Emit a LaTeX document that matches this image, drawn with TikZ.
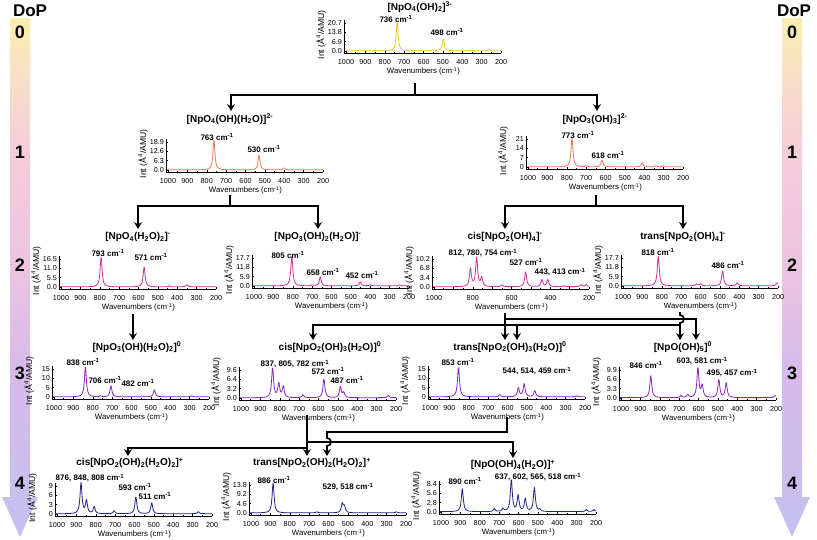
\documentclass[tikz,border=0pt]{standalone}
\usepackage{fontspec}
\setmainfont{Liberation Sans}
\usetikzlibrary{arrows.meta}
\definecolor{cyel}{RGB}{240,196,40}
\definecolor{corg}{RGB}{240,120,90}
\definecolor{cmag}{RGB}{205,50,150}
\definecolor{cpur}{RGB}{135,40,190}
\definecolor{cnav}{RGB}{35,35,130}
\definecolor{dA}{RGB}{252,236,178}
\definecolor{dB}{RGB}{248,222,200}
\definecolor{dC}{RGB}{244,205,218}
\definecolor{dD}{RGB}{236,196,226}
\definecolor{dE}{RGB}{215,186,234}
\definecolor{dF}{RGB}{198,192,238}
\pgfdeclareverticalshading{dopshade}{100bp}{color(0bp)=(dF); color(27bp)=(dF); color(41bp)=(dE); color(51bp)=(dD); color(62bp)=(dC); color(69bp)=(dB); color(74bp)=(dA); color(100bp)=(dA)}
\tikzset{
  declare function={lz(\lzA,\lzB,\lzC)=\lzC/(1+(min(abs(\lzA-\lzB),100)/6)^2);},
  axisline/.style={line width=0.5pt, black},
  ticklab/.style={font=\fontsize{7.2}{8}\selectfont, inner sep=0pt},
  ylab/.style={font=\fontsize{8.6}{9}\selectfont, inner sep=0pt, rotate=90},
  xlab/.style={font=\fontsize{7.8}{9}\selectfont, inner sep=0pt},
  ttl/.style={font=\bfseries\fontsize{10}{12}\selectfont, inner sep=0pt},
  pk/.style={font=\bfseries\fontsize{8}{9}\selectfont, inner sep=0pt},
  dopt/.style={font=\bfseries\fontsize{17}{19}\selectfont, inner sep=0pt},
  dopn/.style={font=\bfseries\fontsize{18}{20}\selectfont, inner sep=0pt},
  conn/.style={line width=1.7pt, black, line cap=rect},
  arr/.style={line width=1.7pt, black, -{Stealth[length=7pt,width=8pt,inset=2.5pt]}},
}
% #1 name, #2 X0 (1000 cm-1), #3 y of x axis, #4 y tick labels, #5 colour, #6 peaks, #7 label mode
\newcommand{\spanel}[7]{%
\begin{scope}[shift={(#2,#3)}]
  \coordinate (#1) at (77.5,0);
  \draw[#5, line width=0.8pt, line join=round] plot[domain=1010:200, samples=406]
     ({(1000-\x)*0.19375},{-2-(#6)});
  \draw[axisline] (-2,-33) -- (-2,0) -- (155,0);
  \foreach \w in {1000,900,...,200} \draw[axisline] ({(1000-\w)*0.19375},0) -- ++(0,-2);
  \foreach \w in {950,850,...,250} \draw[axisline] ({(1000-\w)*0.19375},0) -- ++(0,-1);
  \ifnum#7=0
    \foreach \w in {1000,900,...,200} \node[ticklab] at ({(1000-\w)*0.19375},9.5) {\w};
  \else
    \foreach \w in {1000,800,...,200} \node[ticklab] at ({(1000-\w)*0.19375},9.5) {\w};
  \fi
  \foreach \t [count=\i from 0] in {#4} {
    \draw[axisline] (-2,{-2-\i*9.333}) -- ++(2,0);
    \node[ticklab, anchor=east] at (-4,{-2-\i*9.333}) {\t};}
  \foreach \i in {0,1,2} \draw[axisline] (-2,{-2-(\i+0.5)*9.333}) -- ++(1,0);
  \node[ylab] at (-25,-18) {Int (Å\textsuperscript{4}/AMU)};
  \node[xlab] at (77.5,18.5) {Wavenumbers (cm\textsuperscript{-1})};
\end{scope}}
\newcommand{\wn}{~cm\textsuperscript{-1}}
\begin{document}
\begin{tikzpicture}[x=1pt,y=-1pt]
\useasboundingbox (0,0) rectangle (817,539);
\fill[white] (0,0) rectangle (817,539);

% ---------------- DoP arrows
\shade[shading=dopshade]
  (10,18) -- (30,18) -- (30,497) -- (38,497) -- (20,537) -- (2,497) -- (10,497) -- cycle;
\shade[shading=dopshade]
  (782,18) -- (802,18) -- (802,497) -- (810,497) -- (792,537) -- (774,497) -- (782,497) -- cycle;
\node[dopt] (dopL) at (30,11) {DoP};
\node[dopt] (dopR) at (794,11) {DoP};
\foreach \n/\yy in {0/32,1/152,2/265,3/373,4/483} {
  \node[dopn] (nL\n) at (20,\yy) {\n};
  \node[dopn] (nR\n) at (792,\yy) {\n};}

% ---------------- spectra
\spanel{P0}{346}{53}{0.0,6.9,13.8,20.7}{cyel}{lz(\x,736,29)+lz(\x,498,12)+lz(\x,550,1)+lz(\x,360,1)+lz(\x,262,1.5)}{0}
\spanel{P1a}{168}{172}{0.0,6.3,12.6,18.9}{corg}{lz(\x,763,30)+lz(\x,530,15)+lz(\x,400,2)}{0}
\spanel{P1b}{528}{169}{0,7,14,21}{corg}{lz(\x,773,29)+lz(\x,618,7)+lz(\x,410,4)+lz(\x,700,1)+lz(\x,570,1)+lz(\x,340,1)+lz(\x,300,1)}{0}
\spanel{P2a}{61}{289}{0.0,5.5,11.0,16.5}{cmag}{lz(\x,793,30)+lz(\x,571,20)+lz(\x,440,1)+lz(\x,350,2)}{0}
\spanel{P2b}{254}{288}{0.0,5.9,11.8,17.7}{cmag}{lz(\x,805,30)+lz(\x,658,9)+lz(\x,452,4)+lz(\x,700,1)+lz(\x,400,1)+lz(\x,250,1)}{0}
\spanel{P2c}{434}{289}{0.0,3.4,6.8,10.2}{cmag}{lz(\x,812,18)+lz(\x,780,29)+lz(\x,754,9)+lz(\x,650,2)+lz(\x,527,15)+lz(\x,443,7)+lz(\x,413,7)+lz(\x,330,1)+lz(\x,240,2)+lz(\x,215,2)}{1}
\spanel{P2d}{623}{288}{0.0,5.9,11.8,17.7}{cmag}{lz(\x,818,30)+lz(\x,486,15)+lz(\x,620,2)+lz(\x,600,2)+lz(\x,410,3)+lz(\x,205,3)}{0}
\spanel{P3a}{54}{399}{0,5,10,15}{cpur}{lz(\x,838,30)+lz(\x,706,11)+lz(\x,482,7)+lz(\x,760,1)+lz(\x,290,1)}{0}
\spanel{P3b}{241}{400}{0.0,3.2,6.4,9.6}{cpur}{lz(\x,837,30)+lz(\x,805,14)+lz(\x,782,11)+lz(\x,680,3)+lz(\x,572,19)+lz(\x,487,11)+lz(\x,470,5)+lz(\x,240,2)}{0}
\spanel{P3c}{430}{399}{0,5,10,15}{cpur}{lz(\x,853,30)+lz(\x,640,2)+lz(\x,544,9)+lz(\x,514,13)+lz(\x,459,6)+lz(\x,240,1)}{0}
\spanel{P3d}{621}{400}{0.0,3.3,6.6,9.9}{cpur}{lz(\x,846,22)+lz(\x,690,2)+lz(\x,655,3)+lz(\x,603,30)+lz(\x,581,12)+lz(\x,495,18)+lz(\x,457,15)+lz(\x,205,2)}{0}
\spanel{P4a}{57}{516}{0,3,6,9}{cnav}{lz(\x,876,31)+lz(\x,848,13)+lz(\x,808,7)+lz(\x,705,3)+lz(\x,593,17)+lz(\x,511,11)+lz(\x,270,2)}{0}
\spanel{P4b}{251}{515}{0.0,4.6,9.2,13.8}{cnav}{lz(\x,886,30)+lz(\x,660,1)+lz(\x,529,9)+lz(\x,518,6)+lz(\x,250,1)}{0}
\spanel{P4c}{441}{514}{0.0,2.8,5.6,8.4}{cnav}{lz(\x,890,23)+lz(\x,725,3)+lz(\x,680,3)+lz(\x,637,32)+lz(\x,602,16)+lz(\x,565,13)+lz(\x,518,24)+lz(\x,490,2)+lz(\x,250,2)+lz(\x,210,2)}{0}

% ---------------- titles
\node[ttl] (T0) at (420,7) {[NpO\textsubscript{4}(OH)\textsubscript{2}]\textsuperscript{3-}};
\node[ttl] (T1a) at (230,119) {[NpO\textsubscript{4}(OH)(H\textsubscript{2}O)]\textsuperscript{2-}};
\node[ttl] (T1b) at (595,119) {[NpO\textsubscript{3}(OH)\textsubscript{3}]\textsuperscript{2-}};
\node[ttl] (T2a) at (138,237) {[NpO\textsubscript{4}(H\textsubscript{2}O)\textsubscript{2}]\textsuperscript{-}};
\node[ttl] (T2b) at (318,237) {[NpO\textsubscript{3}(OH)\textsubscript{2}(H\textsubscript{2}O)]\textsuperscript{-}};
\node[ttl] (T2c) at (505,237) {cis[NpO\textsubscript{2}(OH)\textsubscript{4}]\textsuperscript{-}};
\node[ttl] (T2d) at (683,237) {trans[NpO\textsubscript{2}(OH)\textsubscript{4}]\textsuperscript{-}};
\node[ttl] (T3a) at (137,347) {[NpO\textsubscript{3}(OH)(H\textsubscript{2}O)\textsubscript{2}]\textsuperscript{0}};
\node[ttl] (T3b) at (330,347) {cis[NpO\textsubscript{2}(OH)\textsubscript{3}(H\textsubscript{2}O)]\textsuperscript{0}};
\node[ttl] (T3c) at (510,347) {trans[NpO\textsubscript{2}(OH)\textsubscript{3}(H\textsubscript{2}O)]\textsuperscript{0}};
\node[ttl] (T3d) at (683,347) {[NpO(OH)\textsubscript{5}]\textsuperscript{0}};
\node[ttl] (T4a) at (130,463) {cis[NpO\textsubscript{2}(OH)\textsubscript{2}(H\textsubscript{2}O)\textsubscript{2}]\textsuperscript{+}};
\node[ttl] (T4b) at (312,463) {trans[NpO\textsubscript{2}(OH)\textsubscript{2}(H\textsubscript{2}O)\textsubscript{2}]\textsuperscript{+}};
\node[ttl] (T4c) at (513,465) {[NpO(OH)\textsubscript{4}(H\textsubscript{2}O)]\textsuperscript{+}};

% ---------------- peak labels
\node[pk] (k01) at (396,19) {736\wn};
\node[pk] (k02) at (447,32) {498\wn};
\node[pk] (k11) at (217,137) {763\wn};
\node[pk] (k12) at (264,149) {530\wn};
\node[pk] (k13) at (578,135) {773\wn};
\node[pk] (k14) at (608,155) {618\wn};
\node[pk] (k21) at (108,253) {793\wn};
\node[pk] (k22) at (151,257) {571\wn};
\node[pk] (k23) at (288,255) {805\wn};
\node[pk] (k24) at (323,272) {658\wn};
\node[pk] (k25) at (362,275) {452\wn};
\node[pk] (k26) at (483,253) {812, 780, 754\wn};
\node[pk] (k27) at (526,262) {527\wn};
\node[pk] (k28) at (560,272) {443, 413\wn};
\node[pk] (k29) at (658,252) {818\wn};
\node[pk] (k2a) at (728,265) {486\wn};
\node[pk] (k31) at (83,362) {838\wn};
\node[pk] (k32) at (105,380) {706\wn};
\node[pk] (k33) at (138,383) {482\wn};
\node[pk] (k34) at (295,364) {837, 805, 782\wn};
\node[pk] (k35) at (328,371) {572\wn};
\node[pk] (k36) at (347,380) {487\wn};
\node[pk] (k37) at (458,362) {853\wn};
\node[pk] (k38) at (537,371) {544, 514, 459\wn};
\node[pk] (k39) at (646,365) {846\wn};
\node[pk] (k3a) at (702,361) {603, 581\wn};
\node[pk] (k3b) at (732,373) {495, 457\wn};
\node[pk] (k41) at (90,478) {876, 848, 808\wn};
\node[pk] (k42) at (135,487) {593\wn};
\node[pk] (k43) at (155,496) {511\wn};
\node[pk] (k44) at (274,480) {886\wn};
\node[pk] (k45) at (348,487) {529, 518\wn};
\node[pk] (k46) at (465,481) {890\wn};
\node[pk] (k47) at (538,477) {637, 602, 565, 518\wn};

% ---------------- connectors
% DoP 0 -> 1
\coordinate (s0) at (415,84);  \coordinate (j0) at (415,95);
\coordinate (h0l) at (231,95); \coordinate (h0r) at (597,95);
\coordinate (a1a) at (231,111); \coordinate (a1b) at (597,111);
\draw[conn] (s0) -- (j0);
\draw[conn] (h0l) -- (h0r);
\draw[arr] (h0l) -- (a1a);
\draw[arr] (h0r) -- (a1b);
% DoP 1 -> 2
\coordinate (s1a) at (230,196); \coordinate (j1a) at (230,206);
\coordinate (h1al) at (138,206); \coordinate (h1ar) at (318,206);
\coordinate (a2a) at (138,229); \coordinate (a2b) at (318,229);
\draw[conn] (s1a) -- (j1a);
\draw[conn] (h1al) -- (h1ar);
\draw[arr] (h1al) -- (a2a);
\draw[arr] (h1ar) -- (a2b);
\coordinate (s1b) at (596,196); \coordinate (j1b) at (596,206);
\coordinate (h1bl) at (505,206); \coordinate (h1br) at (683,206);
\coordinate (a2c) at (505,229); \coordinate (a2d) at (683,229);
\draw[conn] (s1b) -- (j1b);
\draw[conn] (h1bl) -- (h1br);
\draw[arr] (h1bl) -- (a2c);
\draw[arr] (h1br) -- (a2d);
% DoP 2 -> 3
\coordinate (s2a) at (133,314); \coordinate (a3a) at (133,340);
\draw[arr] (s2a) -- (a3a);
% from cis[NpO2(OH)4]-
\coordinate (s2c) at (505,313); \coordinate (a3c1) at (505,340);
\coordinate (h2c) at (696,319); \coordinate (a3d2) at (696,340);
\draw[arr] (s2c) -- (a3c1);
\draw[conn] (505,319) -- (h2c);
\draw[arr] (h2c) -- (a3d2);
% from trans[NpO2(OH)4]-
\coordinate (s2d) at (680,313); \coordinate (h2d) at (680,325);
\coordinate (a3d1) at (680,340);
\coordinate (h2l) at (313,325); \coordinate (a3b) at (313,340);
\coordinate (h2m) at (517,325); \coordinate (a3c2) at (517,340);
\draw[conn] (s2d) -- (680,315) arc[start angle=-90, end angle=90, radius=4] -- (h2d);
\draw[arr] (h2d) -- (a3d1);
\draw[conn] (h2d) -- (h2l);
\draw[arr] (h2l) -- (a3b);
\draw[arr] (h2m) -- (a3c2);
% DoP 3 -> 4
\coordinate (s3b) at (307,415); \coordinate (j3b) at (307,448);
\coordinate (h3l) at (128,448); \coordinate (a4a) at (128,456);
\coordinate (a4b1) at (307,456);
\draw[arr] (s3b) -- (a4b1);
\draw[conn] (h3l) -- (j3b);
\draw[arr] (h3l) -- (a4a);
\coordinate (h3m) at (513,442); \coordinate (a4c) at (513,458);
\draw[conn] (307,442) -- (h3m);
\draw[arr] (h3m) -- (a4c);
\coordinate (s3c) at (507,418); \coordinate (j3c) at (507,432);
\coordinate (h3c) at (327,432); \coordinate (a4b2) at (327,456);
\draw[conn] (s3c) -- (j3c) -- (h3c) -- (327,438) arc[start angle=-90, end angle=90, radius=4];
\draw[arr] (327,446) -- (a4b2);
\end{tikzpicture}
\end{document}
